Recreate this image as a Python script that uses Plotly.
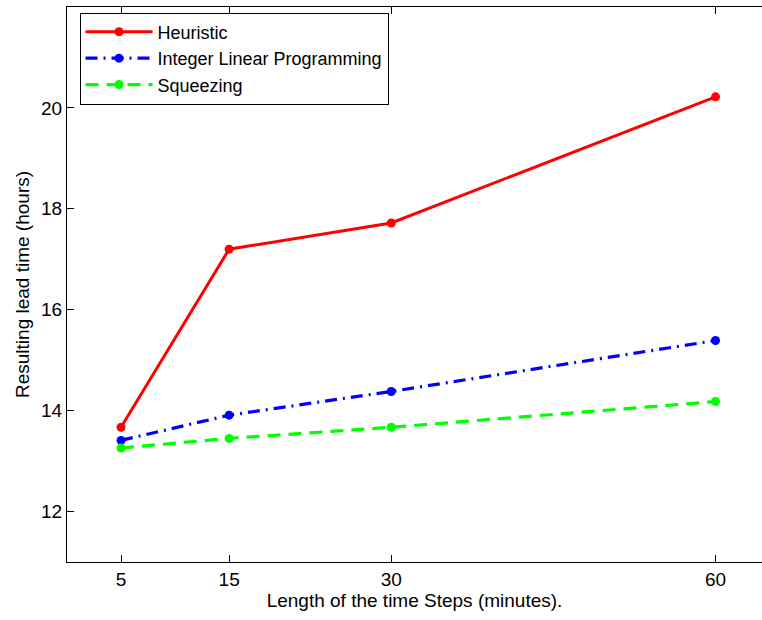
import plotly.graph_objects as go

steps = [5, 15, 30, 60]
heuristic = [13.67, 17.20, 17.72, 20.22]
ilp = [13.41, 13.91, 14.38, 15.39]
squeezing = [13.26, 13.45, 13.67, 14.18]

x_ticks = [5, 15, 30, 60]
y_ticks = [12, 14, 16, 18, 20]

FONT = "Liberation Sans, Arial, Helvetica, sans-serif"

fig = go.Figure()
fig.add_trace(go.Scatter(x=steps, y=heuristic, name="Heuristic", mode="lines+markers",
                         line=dict(color="#FF0000", width=3),
                         marker=dict(color="#FF0000", size=9, symbol="circle")))
fig.add_trace(go.Scatter(x=steps, y=ilp, name="Integer Linear Programming", mode="lines+markers",
                         line=dict(color="#0000FF", width=3.2, dash="12px,6px,2px,6px"),
                         marker=dict(color="#0000FF", size=9, symbol="circle")))
fig.add_trace(go.Scatter(x=steps, y=squeezing, name="Squeezing", mode="lines+markers",
                         line=dict(color="#00FF00", width=3.2, dash="13px,8px"),
                         marker=dict(color="#00FF00", size=9, symbol="circle")))

fig.update_layout(
    width=762, height=620,
    margin=dict(l=67, r=0, t=7, b=58),
    paper_bgcolor="white", plot_bgcolor="white",
    font=dict(family=FONT, size=19, color="black"),
    showlegend=True,
    legend=dict(x=0.018, y=0.99, xanchor="left", yanchor="top",
                bgcolor="white", bordercolor="black", borderwidth=1,
                font=dict(family=FONT, size=18, color="black"),
                tracegroupgap=0, itemwidth=67),
    xaxis=dict(range=[0, 64.3], tickmode="array", tickvals=x_ticks,
               ticktext=[str(v) for v in x_ticks],
               ticks="inside", ticklen=7, tickcolor="black", tickwidth=1,
               showline=True, linecolor="black", linewidth=1.3, mirror="ticks",
               showgrid=False, zeroline=False,
               title=dict(text="Length of the time Steps (minutes).", standoff=4,
                          font=dict(family=FONT, size=19)),
               tickfont=dict(family=FONT, size=19)),
    yaxis=dict(range=[11, 22], tickmode="array", tickvals=y_ticks,
               ticktext=[str(v) for v in y_ticks],
               ticks="inside", ticklen=7, tickcolor="black", tickwidth=1,
               showline=True, linecolor="black", linewidth=1.3, mirror=False,
               showgrid=False, zeroline=False,
               title=dict(text="Resulting lead time (hours)", standoff=6,
                          font=dict(family=FONT, size=19)),
               tickfont=dict(family=FONT, size=19)),
)

fig.write_html("out.html")
